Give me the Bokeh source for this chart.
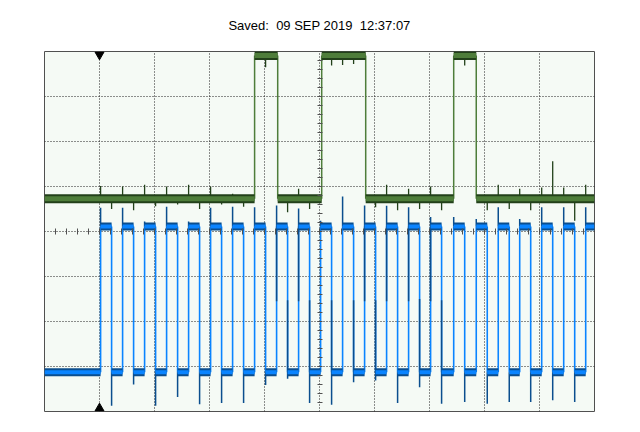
import numpy as np
from bokeh.plotting import figure
from bokeh.models import Range1d, FixedTicker, Grid, LinearAxis
from bokeh.embed import file_html
from bokeh.resources import INLINE

# ---------------- data (time in divisions, level in divisions) ----------------
title_text = "Saved:\u00a0 09 SEP 2019\u00a0 12:37:07"
trigger_time = 1.0

blue_high = 0.11
blue_low = -3.13
blue_rise = [1.02, 1.42, 1.82, 2.22, 2.62, 3.02, 3.42, 3.82, 4.22, 4.62, 5.02, 5.42,
             5.82, 6.22, 6.62, 7.02, 7.44, 7.85, 8.25, 8.64, 9.04, 9.44, 9.84]
blue_fall = [1.22, 1.62, 2.02, 2.42, 2.82, 3.22, 3.62, 4.02, 4.42, 4.82, 5.22, 5.62,
             6.02, 6.42, 6.82, 7.22, 7.64, 8.05, 8.45, 8.84, 9.24, 9.64]
blue_rise_peak = [0.53, 0.53, 0.22, 0.55, 0.22, 0.53, 0.55, 0.54, 0.58, 0.51, 0.24, 0.78,
                  0.58, 0.57, 0.54, 0.32, 0.32, 0.28, 0.54, 0.28, 0.54, 0.54, 0.54]
blue_rise_dark_end = [0.11, 0.11, 0.11, 0.11, 0.11, 0.11, 0.11, 0.11, -1.55, -1.55, 0.11, 0.11,
                      -1.55, -1.55, -1.55, -1.55, 0.11, 0.11, 0.11, 0.11, 0.11, 0.11, 0.11]
blue_fall_trough = [-3.87, -3.40, -3.87, -3.68, -3.84, -3.81, -3.81, -3.41, -3.27, -3.81, -3.85,
                    -3.35, -3.31, -3.81, -3.46, -3.83, -3.79, -3.83, -3.79, -3.79, -3.75, -3.79]
blue_fall_dark_start = [-3.13, -3.13, -3.13, -3.13, -3.13, -3.13, -3.13, -3.13, -1.53, -1.53, -1.53,
                        -1.53, -1.53, -3.13, -1.50, -1.53, -3.13, -3.13, -3.13, -3.13, -3.13, -3.13]

green_low = 0.73
green_high = 3.91
green_edges = [3.82, 4.24, 5.04, 5.84, 7.44, 7.85]
green_spike_x = [1.02, 1.22, 1.42, 1.62, 1.82, 2.02, 2.22, 2.42, 2.62, 2.82, 3.02, 3.22, 3.42, 3.62,
                 4.42, 4.62, 4.82, 6.02, 6.22, 6.42, 6.62, 6.82, 7.02, 7.22,
                 8.05, 8.25, 8.45, 8.64, 8.84, 9.04, 9.24, 9.44, 9.64, 9.84]
green_spike_tip = [1.01, 0.50, 1.00, 0.47, 1.04, 0.56, 1.00, 0.60, 1.04, 0.50, 1.00, 0.60, 0.84, 0.55,
                   0.43, 0.95, 0.50, 0.54, 1.04, 0.47, 0.95, 0.50, 1.00, 0.47,
                   0.47, 1.04, 0.50, 0.95, 0.47, 0.98, 1.56, 0.98, 0.24, 1.04]
green_high_spike_x = [4.02, 5.22, 5.42, 5.62, 7.64]
green_high_spike_tip = [3.65, 3.69, 3.70, 3.72, 3.69]

# ---------------- colours ----------------
BG = "#F5FAF5"
GRID = "#202020"
BLUE_L = "#0A84FF"
BLUE_D = "#0B4E8E"
GREEN_L = "#4E7D3A"
GREEN_D = "#22401A"

p = figure(width=624, height=416, output_backend="svg", toolbar_location=None,
           x_range=Range1d(0, 10), y_range=Range1d(-4, 4),
           x_axis_type=None, y_axis_type=None,
           min_border_left=44, min_border_right=30, min_border_top=51, min_border_bottom=5,
           background_fill_color=BG, border_fill_color="white",
           outline_line_color="#505050", outline_line_width=1)

p.title.text = title_text
p.title.align = "center"
p.title.vertical_align = "top"
p.title.text_font = "Liberation Sans"
p.title.text_font_size = "13px"
p.title.text_font_style = "normal"
p.title.text_color = "black"
p.title.standoff = 33

# grid
p.add_layout(Grid(dimension=0, ticker=FixedTicker(ticks=[1, 2, 3, 4, 5, 6, 7, 8, 9]),
                  grid_line_color=GRID, grid_line_dash="1 2", grid_line_width=1))
p.add_layout(Grid(dimension=1, ticker=FixedTicker(ticks=[-3, -2, -1, 0, 1, 2, 3]),
                  grid_line_color=GRID, grid_line_dash="1 2", grid_line_width=1))

# centre graticule ticks
xt = [round(v, 2) for v in np.arange(0.2, 10.0, 0.2)]
yt = [round(v, 2) for v in np.arange(-3.8, 4.0, 0.2)]
xa = LinearAxis(fixed_location=0, ticker=FixedTicker(ticks=xt), axis_line_color=None,
                major_tick_in=3, major_tick_out=3, major_tick_line_color="#505050",
                minor_tick_line_color=None, major_label_text_color=None,
                major_label_text_font_size="1px", major_label_standoff=0)
ya = LinearAxis(fixed_location=5, ticker=FixedTicker(ticks=yt), axis_line_color=None,
                major_tick_in=3, major_tick_out=2, major_tick_line_color="#505050",
                minor_tick_line_color=None, major_label_text_color=None,
                major_label_text_font_size="1px", major_label_standoff=0)
p.add_layout(xa, "below")
p.add_layout(ya, "left")

# ---------------- green trace ----------------
g_low_x0 = [0.0, green_edges[1], green_edges[3], green_edges[5]]
g_low_x1 = [green_edges[0], green_edges[2], green_edges[4], 10.0]
g_high_x0 = [green_edges[0], green_edges[2], green_edges[4]]
g_high_x1 = [green_edges[1], green_edges[3], green_edges[5]]

p.segment(x0=green_edges, y0=[green_low] * len(green_edges), x1=green_edges,
          y1=[green_high] * len(green_edges), line_color=GREEN_L, line_width=1.5)
p.segment(x0=green_spike_x, y0=[green_low] * len(green_spike_x), x1=green_spike_x,
          y1=green_spike_tip, line_color=GREEN_D, line_width=1.3)
p.segment(x0=green_high_spike_x, y0=[green_high] * len(green_high_spike_x), x1=green_high_spike_x,
          y1=green_high_spike_tip, line_color=GREEN_D, line_width=1.3)
for col, w in ((GREEN_D, 9), (GREEN_L, 5)):
    p.segment(x0=g_low_x0, y0=[green_low] * 4, x1=g_low_x1, y1=[green_low] * 4,
              line_color=col, line_width=w, line_cap="butt")
    p.segment(x0=g_high_x0, y0=[green_high] * 3, x1=g_high_x1, y1=[green_high] * 3,
              line_color=col, line_width=w, line_cap="butt")

# ---------------- blue trace ----------------
b_high_x0 = blue_rise
b_high_x1 = blue_fall + [10.0]
b_low_x0 = [0.0] + blue_fall
b_low_x1 = blue_rise

p.segment(x0=blue_rise, y0=[blue_low] * len(blue_rise), x1=blue_rise, y1=[blue_high] * len(blue_rise),
          line_color=BLUE_L, line_width=1.6)
p.segment(x0=blue_fall, y0=[blue_high] * len(blue_fall), x1=blue_fall, y1=[blue_low] * len(blue_fall),
          line_color=BLUE_L, line_width=1.6)
p.segment(x0=blue_rise, y0=blue_rise_dark_end, x1=blue_rise, y1=blue_rise_peak,
          line_color=BLUE_D, line_width=1.5)
p.segment(x0=blue_fall, y0=blue_fall_dark_start, x1=blue_fall, y1=blue_fall_trough,
          line_color=BLUE_D, line_width=1.5)
for col, w in ((BLUE_D, 8), (BLUE_L, 4)):
    p.segment(x0=b_high_x0, y0=[blue_high] * len(b_high_x0), x1=b_high_x1, y1=[blue_high] * len(b_high_x0),
              line_color=col, line_width=w, line_cap="butt")
    p.segment(x0=b_low_x0, y0=[blue_low] * len(b_low_x0), x1=b_low_x1, y1=[blue_low] * len(b_low_x0),
              line_color=col, line_width=w, line_cap="butt")

# trigger markers
p.scatter(x=[trigger_time], y=[3.93], marker="inverted_triangle", size=9,
          fill_color="black", line_color="black")
p.scatter(x=[trigger_time], y=[-3.93], marker="triangle", size=9,
          fill_color="black", line_color="black")

open("out.html", "w").write(file_html(p, INLINE))
